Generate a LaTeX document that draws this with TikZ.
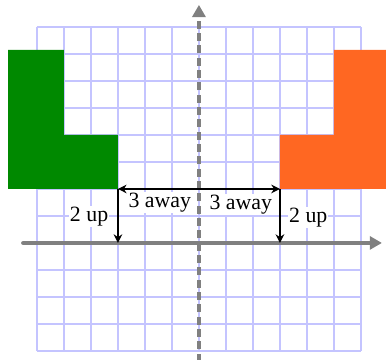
\documentclass[tikz,border=0pt]{standalone}
\usepackage{fontspec}
\setmainfont{Liberation Serif}
\usetikzlibrary{arrows.meta,positioning}
\definecolor{gridblue}{RGB}{196,196,255}
\definecolor{axisgray}{RGB}{128,128,128}
\definecolor{shapegreen}{RGB}{0,137,0}
\definecolor{shapeorange}{RGB}{255,103,34}

\begin{document}
\begin{tikzpicture}[every node/.style={font=\fontsize{23}{27}\selectfont},
  axis/.style={axisgray, line width=5pt, -{Triangle[length=0.45cm,width=0.48cm]}},
  move/.style={black, line width=2.8pt, -{Stealth[length=0.32cm,width=0.32cm]}},
  lbl/.style={fill=white, inner sep=1pt}]
\useasboundingbox (-7.37,-4.33) rectangle (6.93,9.0);
\draw[gridblue, line width=2.8pt] (-6,-4) grid (6,8);
\fill[shapegreen] (-7.07,2) -- (-3,2) -- (-3,4) -- (-5,4) -- (-5,7.15) -- (-7.07,7.15) -- cycle;
\fill[shapeorange] (3,2) -- (7.2,2) -- (7.2,7.15) -- (5,7.15) -- (5,4) -- (3,4) -- cycle;
\coordinate (xs) at (-6.5,0);
\coordinate (xe) at (6.78,0);
\coordinate (ys) at (0,-4.4);
\coordinate (ye) at (0,8.82);
\draw[axis, line cap=round] (xs) -- (xe);
\draw[axis, dash pattern=on 8.5pt off 4.5pt] (ys) -- (ye);
\coordinate (mid) at (0,2);
\coordinate (gtop) at (-3,2);
\coordinate (gbot) at (-3,0);
\coordinate (otop) at (3,2);
\coordinate (obot) at (3,0);
\node[lbl] (awayl) at (-1.45,1.5) {3 away};
\node[lbl] (awayr) at (1.55,1.42) {3 away};
\node[lbl] (upl) at (-4.07,0.97) {2 up};
\node[lbl] (upr) at (4.05,0.95) {2 up};
\draw[move] (mid) -- (gtop);
\draw[move] (mid) -- (otop);
\draw[move, {Stealth[length=0.32cm,width=0.32cm]}-] (gbot) -- (gtop);
\draw[move, {Stealth[length=0.32cm,width=0.32cm]}-] (obot) -- (otop);
\end{tikzpicture}
\end{document}
